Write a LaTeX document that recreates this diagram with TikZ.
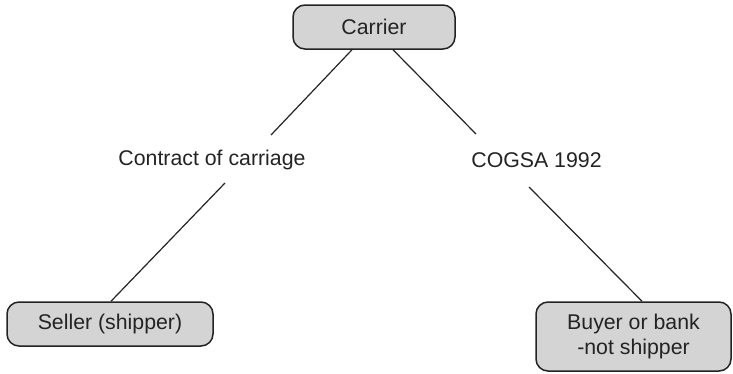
\documentclass[tikz,border=0pt]{standalone}
\usepackage{fontspec}
\setmainfont{Liberation Sans}
\usetikzlibrary{calc}
\definecolor{boxfill}{RGB}{212,212,212}
\definecolor{ink}{RGB}{35,35,35}
\tikzset{
  box/.style={draw=ink, fill=boxfill, line width=1.5pt, rounded corners=12pt,
    inner sep=0pt, align=center, text=ink,
    font=\fontsize{21.3}{25}\selectfont},
  lbl/.style={inner sep=0pt, text=ink, font=\fontsize{21.3}{25}\selectfont},
  conn/.style={draw=ink, line width=1.2pt}
}
\begin{document}
\begin{tikzpicture}[x=1pt,y=-1pt]
\useasboundingbox (0,0) rectangle (733,373);
\node[box, minimum width=162pt, minimum height=44pt] (carrier) at (374,27) {Carrier};
\node[box, minimum width=206pt, minimum height=44pt] (seller) at (110,324) {Seller (shipper)};
\node[box, minimum width=195pt, minimum height=69pt] (buyer) at (633.5,336.5) {Buyer or bank\\-not shipper};
\node[lbl] (contract) at (212,160) {Contract of carriage};
\node[lbl] (cogsa) at (536.5,160) {COGSA 1992};
\coordinate (c1) at ($(carrier.south)+(-22,0)$);
\coordinate (c2) at ($(carrier.south)+(19,0)$);
\coordinate (k1) at ($(contract.center)+(59,-25)$);
\coordinate (k2) at ($(contract.center)+(13,23)$);
\coordinate (g1) at ($(cogsa.center)+(-60.5,-26)$);
\coordinate (g2) at ($(cogsa.center)+(-7.5,27)$);
\coordinate (s1) at ($(seller.north)+(1,0)$);
\coordinate (b1) at ($(buyer.north)+(8.5,0)$);
\draw[conn] (c1) -- (k1);
\draw[conn] (k2) -- (s1);
\draw[conn] (c2) -- (g1);
\draw[conn] (g2) -- (b1);
\end{tikzpicture}
\end{document}
